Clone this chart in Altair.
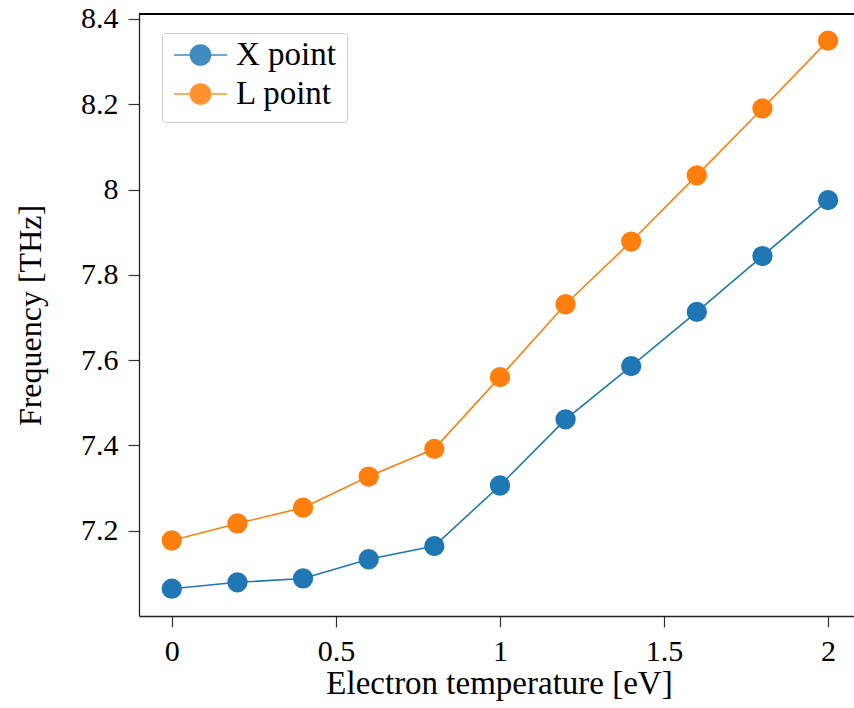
import altair as alt
import pandas as pd

temps = [0.0, 0.2, 0.4, 0.6, 0.8, 1.0, 1.2, 1.4, 1.6, 1.8, 2.0]
x_point = [7.064, 7.079, 7.088, 7.133, 7.164, 7.306, 7.461, 7.586, 7.713, 7.844, 7.975]
l_point = [7.177, 7.217, 7.254, 7.327, 7.392, 7.560, 7.731, 7.878, 8.033, 8.190, 8.349]
series_names = ["X point", "L point"]
series_colors = ["#1f77b4", "#ff7f0e"]
x_ticks = [0, 0.5, 1, 1.5, 2]
y_ticks = [7.2, 7.4, 7.6, 7.8, 8.0, 8.2, 8.4]

rows = []
for name, vals in zip(series_names, [x_point, l_point]):
    for t, v in zip(temps, vals):
        rows.append({"T": t, "f": v, "series": name})
df = pd.DataFrame(rows)

W, H = 715, 602
FONT = "Liberation Serif"

color_scale = alt.Scale(domain=series_names, range=series_colors)
xenc = alt.X("T:Q", scale=alt.Scale(domain=[-0.1, 2.079], nice=False, zero=False),
             axis=alt.Axis(values=x_ticks, labelExpr="format(datum.value, '~g')",
                           title="Electron temperature [eV]", titleX=360, titleFontSize=33))
yenc = alt.Y("f:Q", scale=alt.Scale(domain=[7.0, 8.4115], nice=False, zero=False),
             axis=alt.Axis(values=y_ticks, labelExpr="format(datum.value, '~g')",
                           title="Frequency [THz]"))

legend = alt.Legend(title=None, orient="none", legendX=23, legendY=19)

lines = alt.Chart(df).mark_line(strokeWidth=1.6).encode(
    x=xenc, y=yenc,
    stroke=alt.Stroke("series:N", scale=color_scale, legend=legend),
    order="T:Q",
)
pts = alt.Chart(df).mark_circle(size=335, opacity=1).encode(
    x=xenc, y=yenc,
    fill=alt.Fill("series:N", scale=color_scale, legend=legend),
    stroke=alt.Stroke("series:N", scale=color_scale, legend=legend),
)
top = alt.Chart(df).mark_rule(color="black", strokeWidth=1.3).encode(
    x=alt.value(0), x2=alt.value(W), y=alt.value(0))

chart = alt.layer(top, lines, pts).properties(
    width=W, height=H,
    autosize=alt.AutoSizeParams(type="none"),
    padding={"left": 139, "top": 14, "right": 0, "bottom": 92},
).configure(
    font=FONT,
    style={"guide-label": {"font": FONT}, "guide-title": {"font": FONT}},
).configure_view(stroke=None).configure_axis(
    grid=False, domainColor="#222222", domainWidth=1.3, tickColor="#333333",
    tickWidth=1.2, tickSize=11, labelFont=FONT, labelFontSize=30, labelColor="black",
    titleFont=FONT, titleFontSize=32, titleFontWeight="normal",
    titleColor="black",
).configure_axisX(titlePadding=1, labelPadding=9).configure_axisY(
    titlePadding=33, labelPadding=10
).configure_legend(
    symbolType="M-1,0L1,0M0.377,0A0.377,0.377,0,1,1,-0.377,0A0.377,0.377,0,1,1,0.377,0Z",
    symbolSize=2809, symbolStrokeWidth=1.6, symbolOpacity=0.85,
    clipHeight=22, rowPadding=6, labelOffset=8,
    labelFont=FONT, labelFontSize=33, labelColor="black",
    fillColor="white", strokeColor="#cccccc", padding=11, cornerRadius=3,
)

chart.save("out.html", embed_options={"renderer": "svg", "actions": False})
